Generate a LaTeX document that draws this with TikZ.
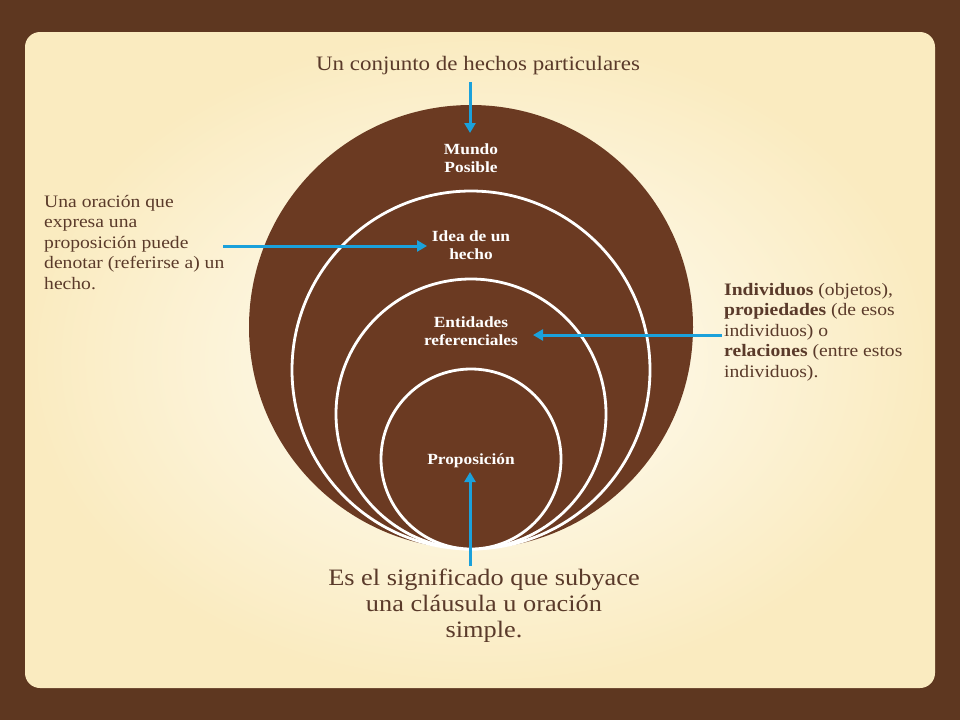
\documentclass[tikz,border=0pt]{standalone}
\usepackage{fontspec}
\setmainfont{Liberation Serif}[FakeStretch=1.12]
\usetikzlibrary{arrows.meta}
\definecolor{wood}{HTML}{5E3720}
\definecolor{cream}{HTML}{FFFEF8}
\definecolor{creamedge}{HTML}{FAEBC0}
\definecolor{disc}{HTML}{6B3A22}
\definecolor{txt}{HTML}{5A3A2A}
\definecolor{arr}{HTML}{1BA1DB}
\tikzset{
  ring/.style={draw=white,line width=2.8pt,fill=disc},
  lab/.style={text=white,font=\bfseries\fontsize{15.5}{18}\selectfont,align=center},
  note/.style={text=txt,font=\fontsize{17.5}{20.5}\selectfont,align=left,anchor=north west,inner sep=0},
  ar/.style={draw=arr,line width=3pt,-{Triangle[length=10pt,width=11pt]}}
}
\begin{document}
\begin{tikzpicture}[x=1pt,y=-1pt]
\useasboundingbox (0,0) rectangle (960,720);
\fill[wood] (0,0) rectangle (960,720);
\shade[inner color=cream,outer color=creamedge,rounded corners=15pt] (25,32) rectangle (935,688);
\draw[draw=none,fill=disc] (471,327) circle (222);
\draw[ring] (471,370) circle (179);
\draw[ring] (471,414) circle (135);
\draw[ring] (471,459) circle (90);
\node[lab] (mp) at (471,158) {Mundo\\Posible};
\node[lab] (ih) at (471,245) {Idea de un\\hecho};
\node[lab] (er) at (471,331) {Entidades\\referenciales};
\node[lab] (pr) at (471,461) {Proposición};
\node[text=txt,font=\fontsize{20.5}{22}\selectfont] (t1) at (478,66) {Un conjunto de hechos particulares};
\node[note] (t2) at (44,195) {Una oración que\\expresa una\\proposición puede\\denotar (referirse a) un\\hecho.};
\node[note] (t3) at (724,283) {\textbf{Individuos} (objetos),\\\textbf{propiedades}  (de esos\\individuos) o\\\textbf{relaciones} (entre estos\\individuos).};
\node[text=txt,font=\fontsize{23.5}{26}\selectfont,align=center] (t4) at (484,606) {Es el significado que subyace\\una cláusula u oración\\simple.};
\coordinate (a1) at (470,82); \coordinate (b1) at (470,133);
\coordinate (a2) at (223,246); \coordinate (b2) at (427,246);
\coordinate (a3) at (722,335); \coordinate (b3) at (533,335);
\coordinate (a4) at (470,566); \coordinate (b4) at (470,472);
\draw[ar] (a1) -- (b1);
\draw[ar] (a2) -- (b2);
\draw[ar] (a3) -- (b3);
\draw[ar] (a4) -- (b4);
\end{tikzpicture}
\end{document}
